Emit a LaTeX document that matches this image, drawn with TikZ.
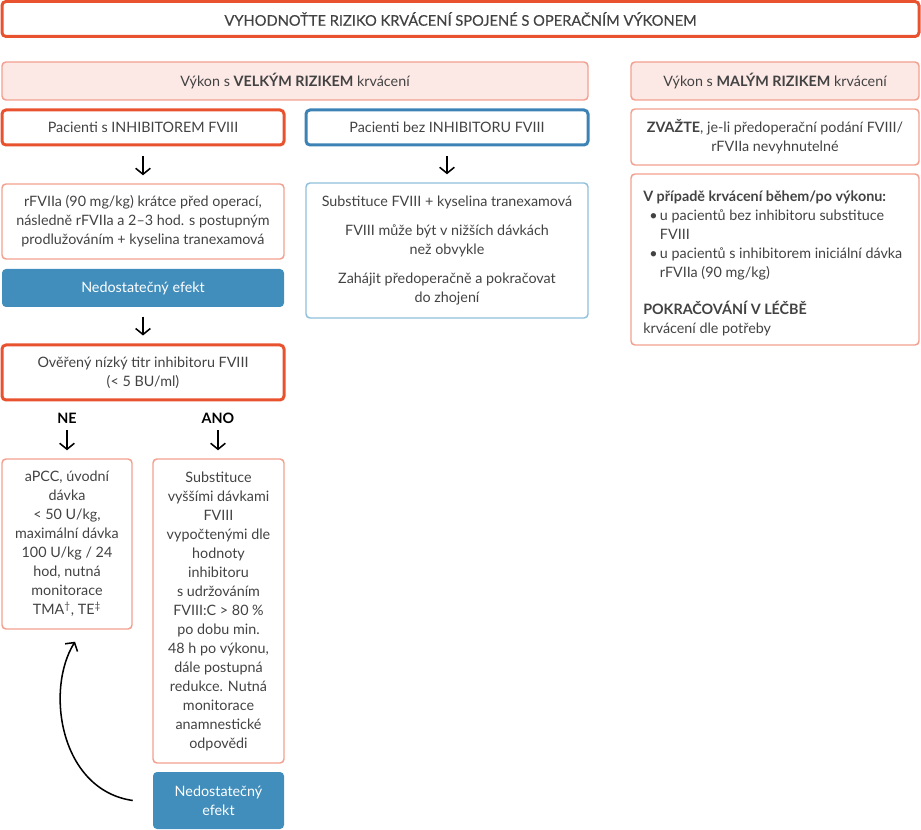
\documentclass[tikz,border=0pt]{standalone}
\usepackage{fontspec}
\setmainfont{Lato}
\newfontfamily\titlefont[FakeBold=0.4]{Lato}
\usetikzlibrary{arrows.meta}
\definecolor{ored}{HTML}{E9522F}
\definecolor{salmon}{HTML}{F2A08F}
\definecolor{pinkf}{HTML}{FCE9E6}
\definecolor{bblue}{HTML}{3D82B4}
\definecolor{lblue}{HTML}{8FC0DC}
\definecolor{bfill}{HTML}{418EBC}
\definecolor{txt}{HTML}{424242}
\tikzset{
  sz/.style n args={2}{minimum width={#1*0.75pt}, minimum height={#2*0.75pt}},
  base/.style={inner sep=0pt, rounded corners=3pt, align=center, text=txt},
  thickr/.style={base, draw=ored, line width=2.25pt},
  thickb/.style={base, draw=bblue, line width=2.25pt},
  thinr/.style={base, draw=salmon, line width=1.1pt},
  thinb/.style={base, draw=lblue, line width=1.1pt},
  pinkb/.style={base, draw=salmon, fill=pinkf, line width=1.1pt},
  bluef/.style={base, fill=bfill, text=white},
  lbl/.style={inner sep=0pt, font=\fontsize{10.75}{14.25}\selectfont\bfseries, text=black},
  arr/.style={line width=1.15pt, -{Straight Barb[length=4.5pt,width=11pt]}},
  downarr/.style={arr, shorten <=7pt, shorten >=6pt}
}
\begin{document}
\begin{tikzpicture}[x=0.75pt,y=-0.75pt, font=\fontsize{10.75}{14.25}\selectfont]
\useasboundingbox (0,0) rectangle (921,830);

\node[thickr, sz={917}{35}] (title) at (460.5,19) {\titlefont\fontsize{11}{14}\selectfont VYHODNOŤTE RIZIKO KRVÁCENÍ SPOJENÉ S OPERAČNÍM VÝKONEM};

\node[pinkb, sz={586}{38}] (big) at (295,81) {Výkon s \textbf{VELKÝM RIZIKEM} krvácení};
\node[pinkb, sz={288}{38}] (small) at (775,81) {Výkon s \textbf{MALÝM RIZIKEM} krvácení};

\node[thickr, sz={282}{35}] (pinh) at (143,127.5) {Pacienti s INHIBITOREM FVIII};
\node[thickb, sz={282}{35}] (pbez) at (447,127.5) {Pacienti bez INHIBITORU FVIII};

\node[thinr, sz={282}{75}] (rf) at (143,221.5) {rFVIIa (90 mg/kg) krátce před operací,\\následně rFVIIa a 2–3 hod. s postupným\\prodlužováním + kyselina tranexamová};
\node[thinb, sz={282}{135}] (mid) at (447,250.5) {Substituce FVIII + kyselina tranexamová\\[7.5pt]FVIII může být v nižších dávkách\\než obvykle\\[7.5pt]Zahájit předoperačně a pokračovat\\do zhojení};

\node[bluef, sz={282}{38}] (nedo1) at (143,288) {Nedostatečný efekt};

\node[thickr, sz={282}{55}] (ov) at (143,372.5) {Ověřený nízký titr inhibitoru FVIII\\(< 5 BU/ml)};

\node[lbl] (ne) at (67,418) {NE};
\node[lbl] (ano) at (218,418) {ANO};

\node[thinr, sz={130}{170}] (apcc) at (67,544) {aPCC, úvodní\\dávka\\< 50 U/kg,\\maximální dávka\\100 U/kg / 24\\hod, nutná\\monitorace\\TMA\textsuperscript{†}, TE\textsuperscript{‡}};
\node[thinr, sz={131}{304}] (subst) at (218.5,611) {Substituce\\vyššími dávkami\\FVIII\\vypočtenými dle\\hodnoty\\inhibitoru\\s udržováním\\FVIII:C > 80 \%\\po dobu min.\\48 h po výkonu,\\dále postupná\\redukce. Nutná\\monitorace\\anamnestické\\odpovědi};
\node[bluef, sz={131}{57}] (nedo2) at (218.5,800.5) {Nedostatečný\\efekt};

\node[thinr, sz={288}{56}] (zv) at (775,137) {\textbf{ZVAŽTE}, je-li předoperační podání FVIII/\\rFVIIa nevyhnutelné};
\node[thinr, sz={288}{171}] (vp) at (775,259.5) {};
\node[inner sep=0pt, align=left, text=txt, anchor=north west] (vptext) at (643,190.5)
 {\textbf{V případě krvácení během/po výkonu:}\\
  \hspace*{4.5pt}\makebox[8pt][l]{•}u pacientů bez inhibitoru substituce\\
  \hspace*{12.5pt}FVIII\\
  \hspace*{4.5pt}\makebox[8pt][l]{•}u pacientů s inhibitorem iniciální dávka\\
  \hspace*{12.5pt}rFVIIa (90 mg/kg)\\[13.5pt]
  \textbf{POKRAČOVÁNÍ V LÉČBĚ}\\
  krvácení dle potřeby};

\draw[downarr] (pinh.south) -- (rf.north);
\draw[downarr] (pbez.south) -- (mid.north);
\draw[downarr] (nedo1.south) -- (ov.north);
\draw[arr, shorten <=5pt, shorten >=6pt] (ne.south) -- (ne.south |- apcc.north);
\draw[arr, shorten <=5pt, shorten >=6pt] (ano.south) -- (ano.south |- subst.north);

\draw[arr] ([xshift=-15pt]nedo2.west) .. controls (60,790) and (45,690) .. ([xshift=6pt,yshift=-9pt]apcc.south);
\end{tikzpicture}
\end{document}
